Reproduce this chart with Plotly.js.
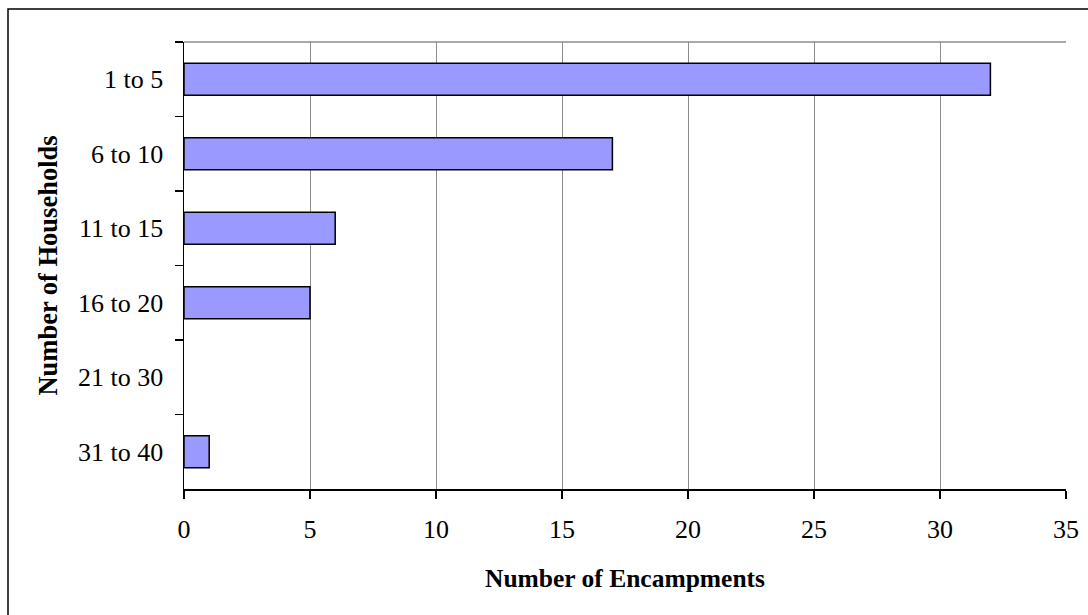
<!DOCTYPE html>
<html>
<head>
<meta charset="utf-8">
<script src="https://cdn.plot.ly/plotly-3.0.1.min.js"></script>
<style>html,body{margin:0;padding:0;background:#fff;}#chart{width:1088px;height:615px;}</style>
</head>
<body>
<div id="chart"></div>
<script>
const categories = ["1 to 5", "6 to 10", "11 to 15", "16 to 20", "21 to 30", "31 to 40"];
const encampments = [32, 17, 6, 5, 0, 1];
const xTicks = [0, 5, 10, 15, 20, 25, 30, 35];

const serif = "Liberation Serif, Times New Roman, serif";
const trace = {
  type: "bar",
  orientation: "h",
  y: categories,
  x: encampments,
  marker: {color: "#9999FF", line: {color: "#000000", width: encampments.map(v => v === 0 ? 0 : 1.5)}},
  hoverinfo: "x+y"
};

const L = 184, R = 22, T = 42, B = 126, W = 1088, H = 615;
const pw = W - L - R, ph = H - T - B;

const layout = {
  width: W, height: H,
  margin: {l: L, r: R, t: T, b: B, pad: 0},
  paper_bgcolor: "#ffffff", plot_bgcolor: "#ffffff",
  showlegend: false,
  bargap: 0.57,
  font: {family: serif, color: "#000000", size: 26},
  xaxis: {
    range: [0, 35],
    tickvals: xTicks,
    ticktext: xTicks.map(String),
    showgrid: true, gridcolor: "#8c8c8c", gridwidth: 1,
    zeroline: false,
    showline: true, linecolor: "#000000", linewidth: 1.5,
    ticks: "outside", ticklen: 8, tickcolor: "#000000", tickwidth: 1.5,
    ticklabelstandoff: 8,
    tickfont: {family: serif, size: 26},
    title: {text: "<b>Number of Encampments</b>", font: {family: serif, size: 25.5}, standoff: 26}
  },
  yaxis: {
    type: "category",
    autorange: "reversed",
    categoryorder: "array", categoryarray: categories,
    tickson: "boundaries",
    ticks: "outside", ticklen: 8, tickcolor: "#000000", tickwidth: 1.5,
    showline: true, linecolor: "#000000", linewidth: 1.5,
    showgrid: false, zeroline: false,
    ticklabelstandoff: 14,
    tickfont: {family: serif, size: 26},
    title: {text: "<b>Number of Households</b>", font: {family: serif, size: 26.5}, standoff: 13}
  },
  shapes: [
    {type: "line", xref: "paper", yref: "paper", x0: 0, x1: 1, y0: 1, y1: 1,
     line: {color: "#8c8c8c", width: 1.5}},
    {type: "rect", xref: "paper", yref: "paper",
     x0: (8 - L) / pw, x1: (W + 20 - L) / pw,
     y0: -(H + 20 - T - ph) / ph, y1: (T + ph - 9) / ph,
     line: {color: "#000000", width: 1.5}, fillcolor: "rgba(0,0,0,0)", layer: "below"}
  ]
};

Plotly.newPlot("chart", [trace], layout, {displayModeBar: false, staticPlot: true});
</script>
</body>
</html>
